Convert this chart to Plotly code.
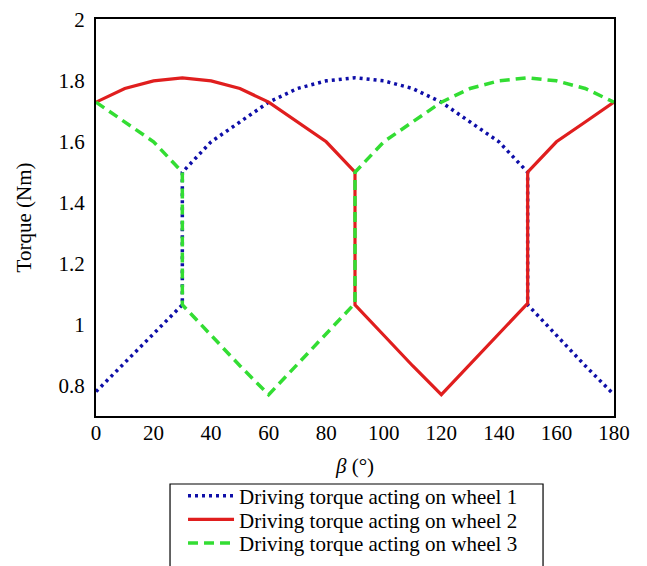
import plotly.graph_objects as go

beta_w1 = [0, 10, 20, 30, 30, 40, 50, 60, 70, 80, 90, 100, 110, 120, 130, 140, 150, 150, 160, 170, 180]
torque_w1 = [0.78, 0.875, 0.97, 1.065, 1.50, 1.60, 1.665, 1.73, 1.775, 1.80, 1.81, 1.80, 1.775, 1.73, 1.665, 1.60, 1.50, 1.065, 0.965, 0.865, 0.77]

beta_w2 = [0, 10, 20, 30, 40, 50, 60, 70, 80, 90, 90, 100, 110, 120, 130, 140, 150, 150, 160, 170, 180]
torque_w2 = [1.73, 1.775, 1.80, 1.81, 1.80, 1.775, 1.73, 1.665, 1.60, 1.50, 1.065, 0.965, 0.865, 0.77, 0.87, 0.97, 1.07, 1.50, 1.60, 1.665, 1.73]

beta_w3 = [0, 10, 20, 30, 30, 40, 50, 60, 70, 80, 90, 90, 100, 110, 120, 130, 140, 150, 160, 170, 180]
torque_w3 = [1.73, 1.665, 1.60, 1.50, 1.065, 0.965, 0.865, 0.77, 0.87, 0.97, 1.07, 1.50, 1.60, 1.665, 1.73, 1.775, 1.80, 1.81, 1.80, 1.775, 1.73]

x_ticks = [0, 20, 40, 60, 80, 100, 120, 140, 160, 180]
y_ticks = [0.8, 1.0, 1.2, 1.4, 1.6, 1.8, 2.0]
y_tick_labels = ["0.8", "1", "1.2", "1.4", "1.6", "1.8", "2"]

names = ["Driving torque acting on wheel 1",
         "Driving torque acting on wheel 2",
         "Driving torque acting on wheel 3"]

FONT = "Liberation Serif"
FS = 21

fig = go.Figure()
fig.add_trace(go.Scatter(x=beta_w1, y=torque_w1, mode="lines", name=names[0], legend="legend",
                         line=dict(color="#0E0EA8", width=3.5, dash="3px,4px")))
fig.add_trace(go.Scatter(x=beta_w2, y=torque_w2, mode="lines", name=names[1], legend="legend2",
                         line=dict(color="#E01E1E", width=3.2)))
fig.add_trace(go.Scatter(x=beta_w3, y=torque_w3, mode="lines", name=names[2], legend="legend3",
                         line=dict(color="#33DD33", width=3.5, dash="10px,6px")))

leg_common = dict(x=0.168, xanchor="left", yanchor="middle",
                  borderwidth=0, bgcolor="rgba(0,0,0,0)", itemwidth=46,
                  font=dict(family=FONT, size=FS, color="black"))

fig.update_layout(
    width=647, height=566,
    margin=dict(l=88, r=41, t=11, b=158, autoexpand=False),
    paper_bgcolor="white", plot_bgcolor="white",
    font=dict(family=FONT, size=FS, color="black"),
    showlegend=True,
    legend=dict(y=-0.2015, **leg_common),
    legend2=dict(y=-0.2615, **leg_common),
    legend3=dict(y=-0.3205, **leg_common),
    shapes=[dict(type="rect", xref="paper", yref="paper",
                 x0=0.1429, x1=0.863, y0=-0.1713, y1=-0.42,
                 line=dict(color="black", width=1.2), fillcolor="rgba(0,0,0,0)")],
    xaxis=dict(
        range=[0, 180], tickvals=x_ticks,
        showgrid=False, zeroline=False,
        showline=True, linecolor="black", linewidth=2, mirror=True,
        ticks="", tickfont=dict(family=FONT, size=FS), ticklabelstandoff=-3,
        title=dict(text="<i>β</i> (°)", font=dict(family=FONT, size=FS), standoff=14),
        automargin=False,
    ),
    yaxis=dict(
        range=[0.7, 2.003], tickvals=y_ticks, ticktext=y_tick_labels,
        showgrid=False, zeroline=False,
        showline=True, linecolor="black", linewidth=2, mirror=True,
        ticks="", tickfont=dict(family=FONT, size=FS), ticklabelstandoff=5,
        title=dict(text="Torque (Nm)", font=dict(family=FONT, size=FS), standoff=21),
        automargin=False,
    ),
)

fig.write_html("out.html")
